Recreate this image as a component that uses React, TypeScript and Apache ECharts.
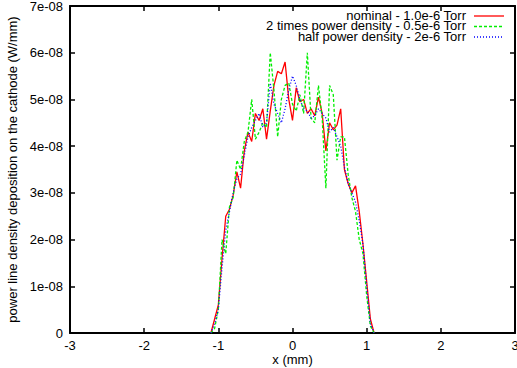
import React, { useEffect, useRef } from "react";
import * as echarts from "echarts";

const xValues = [
  -1.1, -1.05, -1.0, -0.95, -0.9, -0.85, -0.8, -0.75, -0.7, -0.65, -0.6, -0.55, -0.5, -0.45, -0.4,
  -0.35, -0.3, -0.25, -0.2, -0.15, -0.1, -0.05, 0.0, 0.05, 0.1, 0.15, 0.2, 0.25, 0.3, 0.35, 0.4,
  0.45, 0.5, 0.55, 0.6, 0.65, 0.7, 0.75, 0.8, 0.85, 0.9, 0.95, 1.0, 1.05, 1.1,
];

const nominal = [
  0.0, 0.3e-8, 0.6e-8, 1.6e-8, 2.5e-8, 2.65e-8, 2.95e-8, 3.45e-8, 3.1e-8, 3.9e-8, 4.3e-8, 4.1e-8, 4.7e-8, 4.55e-8, 4.8e-8,
  4.15e-8, 4.75e-8, 5.3e-8, 5.6e-8, 5.55e-8, 5.8e-8, 5.0e-8, 4.55e-8, 5.25e-8, 4.95e-8, 5.0e-8, 4.7e-8, 4.8e-8, 4.65e-8, 5.05e-8, 4.7e-8,
  3.9e-8, 4.5e-8, 4.35e-8, 4.45e-8, 4.8e-8, 3.5e-8, 3.2e-8, 3.0e-8, 3.15e-8, 2.6e-8, 1.9e-8, 1.1e-8, 0.3e-8, 0.0,
];

const doublePower = [
  0.0, 0.1e-8, 0.5e-8, 2.0e-8, 1.7e-8, 2.7e-8, 2.9e-8, 3.7e-8, 3.5e-8, 4.1e-8, 4.3e-8, 5.0e-8, 4.15e-8, 4.3e-8, 4.5e-8,
  4.4e-8, 6.0e-8, 5.2e-8, 4.2e-8, 5.0e-8, 5.3e-8, 5.35e-8, 4.9e-8, 4.75e-8, 5.1e-8, 4.7e-8, 6.0e-8, 4.6e-8, 4.5e-8, 5.3e-8, 4.6e-8,
  3.1e-8, 5.3e-8, 5.1e-8, 3.7e-8, 4.2e-8, 4.2e-8, 3.4e-8, 2.9e-8, 2.6e-8, 2.0e-8, 1.7e-8, 0.8e-8, 0.15e-8, 0.0,
];

const halfPower = [
  0.0, 0.2e-8, 0.5e-8, 1.4e-8, 2.2e-8, 2.6e-8, 3.0e-8, 3.3e-8, 3.4e-8, 3.8e-8, 4.2e-8, 4.4e-8, 4.55e-8, 4.7e-8, 4.4e-8,
  4.5e-8, 5.35e-8, 4.9e-8, 4.7e-8, 4.5e-8, 4.8e-8, 5.2e-8, 5.5e-8, 5.3e-8, 5.0e-8, 4.8e-8, 4.75e-8, 4.6e-8, 4.65e-8, 4.8e-8, 4.7e-8,
  4.6e-8, 4.3e-8, 4.4e-8, 4.2e-8, 4.0e-8, 3.55e-8, 3.2e-8, 3.0e-8, 2.8e-8, 2.4e-8, 1.9e-8, 1.0e-8, 0.2e-8, 0.0,
];

const seriesNames = [
  "nominal - 1.0e-6 Torr",
  "2 times power density - 0.5e-6 Torr",
  "half power density - 2e-6 Torr",
];
const seriesColors = ["#ff0000", "#00ee00", "#0000ff"];
const seriesDash: (number[] | null)[] = [null, [3, 2], [1, 2]];

const xAxisTitle = "x (mm)";
const yAxisTitle = "power line density deposition on the cathode (W/mm)";

const FONT = "Liberation Sans, Arial, sans-serif";
const W = 517;
const H = 368;

export default function App() {
  const ref = useRef<HTMLDivElement>(null);

  useEffect(() => {
    if (!ref.current) return;
    const chart = echarts.init(ref.current, undefined, { renderer: "svg", width: W, height: H });
    const toPairs = (ys: number[]) => xValues.map((x, i) => [x, ys[i]]);
    const axisLine = { show: true, onZero: false, lineStyle: { color: "#000", width: 2 } };
    const tick = { show: true, inside: true, length: 5, lineStyle: { color: "#000", width: 1.5 } };
    const yFmt = (v: number) => {
      const n = Math.round(v * 1e8);
      return n === 0 ? "0" : `${n}e-08`;
    };
    const ySeries = [nominal, doublePower, halfPower];

    const legendGraphics: any[] = [];
    seriesNames.forEach((name, i) => {
      const cy = 15 + i * 10.5;
      legendGraphics.push({
        type: "text",
        x: 466,
        y: cy,
        z: 100,
        style: {
          text: name,
          fontSize: 13,
          fontFamily: FONT,
          fill: "#000",
          align: "right",
          verticalAlign: "middle",
        },
      });
      legendGraphics.push({
        type: "line",
        z: 100,
        shape: { x1: 474, y1: cy + 1, x2: 504, y2: cy + 1 },
        style: {
          stroke: seriesColors[i],
          lineWidth: 1.3,
          lineDash: seriesDash[i] || undefined,
        },
      });
    });

    chart.setOption({
      animation: false,
      backgroundColor: "#fff",
      textStyle: { fontFamily: FONT },
      grid: { left: 70, right: 2, top: 6, bottom: 35, containLabel: false, outerBoundsMode: "none" },
      graphic: legendGraphics,
      xAxis: [
        {
          type: "value",
          min: -3,
          max: 3,
          interval: 1,
          position: "bottom",
          name: xAxisTitle,
          nameLocation: "middle",
          nameGap: 20,
          nameMoveOverlap: false,
          nameTextStyle: { fontSize: 13, color: "#000", fontFamily: FONT },
          axisLine,
          axisTick: tick,
          splitLine: { show: false },
          axisLabel: { fontSize: 13, color: "#000", margin: 6, fontFamily: FONT },
        },
        {
          type: "value",
          min: -3,
          max: 3,
          interval: 1,
          position: "top",
          axisLine,
          axisTick: tick,
          splitLine: { show: false },
          axisLabel: { show: false },
        },
      ],
      yAxis: [
        {
          type: "value",
          min: 0,
          max: 7e-8,
          interval: 1e-8,
          position: "left",
          name: yAxisTitle,
          nameLocation: "middle",
          nameGap: 46,
          nameTextStyle: { fontSize: 13, color: "#000", fontFamily: FONT },
          axisLine,
          axisTick: tick,
          splitLine: { show: false },
          axisLabel: { fontSize: 13, color: "#000", margin: 7, formatter: yFmt, fontFamily: FONT },
        },
        {
          type: "value",
          min: 0,
          max: 7e-8,
          interval: 1e-8,
          position: "right",
          axisLine,
          axisTick: tick,
          splitLine: { show: false },
          axisLabel: { show: false },
        },
      ],
      series: seriesNames.map((name, i) => ({
        name,
        type: "line",
        data: toPairs(ySeries[i]),
        symbol: "none",
        color: seriesColors[i],
        lineStyle: {
          color: seriesColors[i],
          width: 1.3,
          type: seriesDash[i] || "solid",
        },
      })),
    });
    return () => chart.dispose();
  }, []);

  return (
    <div
      ref={ref}
      style={{ position: "fixed", left: 0, top: 0, width: W, height: H, background: "#fff" }}
    />
  );
}
